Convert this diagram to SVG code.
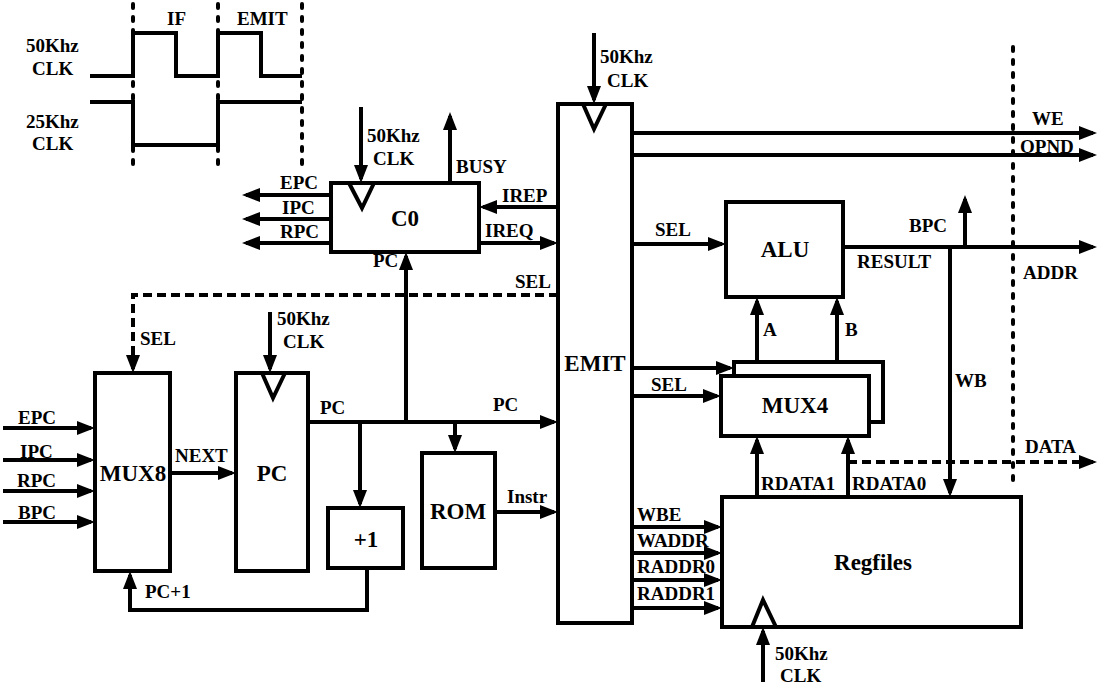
<svg xmlns="http://www.w3.org/2000/svg" width="1101" height="698" viewBox="0 0 1101 698" font-family="'Liberation Serif', 'Times New Roman', 'DejaVu Serif', serif">
<style>
text{font-family:'Liberation Serif','Times New Roman','DejaVu Serif',serif;font-weight:700;fill:#000}
.s{font-size:19px}
.b{font-size:23px;text-anchor:middle}
.box{fill:#fff;stroke:#000;stroke-width:4}
.w{fill:none;stroke:#000;stroke-width:4}
.a{fill:none;stroke:#000;stroke-width:4;marker-end:url(#ah)}
.da{fill:none;stroke:#000;stroke-width:4;stroke-dasharray:9 5;marker-end:url(#ah)}
.dot{fill:none;stroke:#000;stroke-width:4;stroke-dasharray:4 9;stroke-linecap:round}
.tri{fill:none;stroke:#000;stroke-width:4;stroke-linejoin:miter}
</style>
<defs>
<marker id="ah" markerWidth="18" markerHeight="14" refX="14" refY="7" orient="auto" markerUnits="userSpaceOnUse"><path d="M0,0 L18,7 L0,14 z" fill="#000"/></marker>
</defs>
<rect width="1101" height="698" fill="#fff"/>

<g id="timing">
<path class="dot" d="M133,4 V168 M218,4 V168 M302,4 V168"/>
<polyline class="w" points="90,76 133,76 133,33 176,33 176,76 218,76 218,33 261,33 261,76 302,76"/>
<polyline class="w" points="90,102 133,102 133,145 218,145 218,102 302,102"/>
<text class="s" x="167" y="25">IF</text>
<text class="s" x="237" y="25">EMIT</text>
<text class="s" x="26" y="52">50Khz</text>
<text class="s" x="32" y="75">CLK</text>
<text class="s" x="26" y="128">25Khz</text>
<text class="s" x="32" y="150">CLK</text>
</g>

<g id="boundary">
<path class="dot" d="M1013,47 V483"/>
</g>

<g id="connectors">
<path class="a" d="M361,107 V179"/>
<path class="a" d="M450,183 V116"/>
<path class="a" d="M331,195 H246"/>
<path class="a" d="M331,219 H246"/>
<path class="a" d="M331,243 H246"/>
<path class="a" d="M558,207 H483"/>
<path class="a" d="M479,243 H554"/>
<path class="a" d="M406,422 V256"/>
<path class="a" d="M594,33 V100"/>
<path class="a" d="M632,133 H1093"/>
<path class="a" d="M632,155 H1093"/>
<path class="a" d="M632,244 H722"/>
<path class="a" d="M843,247 H1093"/>
<path class="a" d="M965,247 V199"/>
<path class="a" d="M950,247 V493"/>
<path class="a" d="M757,376 V301"/>
<path class="a" d="M837,362 V301"/>
<path class="a" d="M632,368 H730"/>
<path class="a" d="M632,396 H717"/>
<path class="a" d="M757,497 V440"/>
<path class="a" d="M848,497 V440"/>
<path class="da" d="M848,462 H1093"/>
<path class="a" d="M632,527 H718"/>
<path class="a" d="M632,553 H718"/>
<path class="a" d="M632,580 H718"/>
<path class="a" d="M632,608 H718"/>
<path class="a" d="M763,682 V631"/>
<path class="da" d="M558,295 H133 V369"/>
<path class="a" d="M270,312 V369"/>
<path class="a" d="M3,428 H91"/>
<path class="a" d="M3,460 H91"/>
<path class="a" d="M3,491 H91"/>
<path class="a" d="M3,522 H91"/>
<path class="a" d="M170,473 H232"/>
<path class="a" d="M367,568 V610 H130 V575"/>
<path class="a" d="M308,422 H554"/>
<path class="a" d="M360,422 V504"/>
<path class="a" d="M455,422 V449"/>
<path class="a" d="M495,512 H554"/>
</g>

<g id="C0">
<rect class="box" x="331" y="183" width="148" height="69"/>
<polyline class="tri" points="349,183 362,208 374,183"/>
<text class="b" x="405" y="226">C0</text>
</g>

<g id="EMIT">
<rect class="box" x="558" y="104" width="74" height="519"/>
<polyline class="tri" points="583,104 594,129 606,104"/>
<text class="b" x="595" y="371">EMIT</text>
</g>

<g id="ALU">
<rect class="box" x="726" y="202" width="117" height="95"/>
<text class="b" x="785" y="257">ALU</text>
</g>

<g id="MUX4">
<rect class="box" x="734" y="362" width="149" height="60"/>
<rect class="box" x="721" y="376" width="148" height="60"/>
<text class="b" x="795" y="413">MUX4</text>
</g>

<g id="Regfiles">
<rect class="box" x="722" y="497" width="299" height="130"/>
<polyline class="tri" points="752,627 763,600 776,627"/>
<text class="b" x="873" y="570">Regfiles</text>
</g>

<g id="MUX8">
<rect class="box" x="95" y="373" width="75" height="198"/>
<text class="b" x="133" y="481">MUX8</text>
</g>

<g id="PC">
<rect class="box" x="236" y="373" width="72" height="198"/>
<polyline class="tri" points="262,373 273,398 285,373"/>
<text class="b" x="272" y="481">PC</text>
</g>

<g id="PLUS1">
<rect class="box" x="328" y="508" width="75" height="60"/>
<text class="b" x="366" y="547">+1</text>
</g>

<g id="ROM">
<rect class="box" x="422" y="453" width="73" height="115"/>
<text class="b" x="458" y="519">ROM</text>
</g>

<g id="labels">
<text class="s" x="367" y="142">50Khz</text>
<text class="s" x="373" y="165">CLK</text>
<text class="s" x="456" y="173">BUSY</text>
<text class="s" x="280" y="189">EPC</text>
<text class="s" x="282" y="214">IPC</text>
<text class="s" x="280" y="238">RPC</text>
<text class="s" x="502" y="202">IREP</text>
<text class="s" x="485" y="237">IREQ</text>
<text class="s" x="373" y="267">PC</text>
<text class="s" x="515" y="288">SEL</text>
<text class="s" x="600" y="63">50Khz</text>
<text class="s" x="607" y="87">CLK</text>
<text class="s" x="1032" y="125">WE</text>
<text class="s" x="1020" y="153">OPND</text>
<text class="s" x="655" y="236">SEL</text>
<text class="s" x="909" y="232">BPC</text>
<text class="s" x="857" y="268">RESULT</text>
<text class="s" x="1023" y="279">ADDR</text>
<text class="s" x="763" y="336">A</text>
<text class="s" x="845" y="336">B</text>
<text class="s" x="651" y="391">SEL</text>
<text class="s" x="955" y="387">WB</text>
<text class="s" x="1025" y="453">DATA</text>
<text class="s" x="761" y="490">RDATA1</text>
<text class="s" x="852" y="490">RDATA0</text>
<text class="s" x="637" y="521">WBE</text>
<text class="s" x="637" y="547">WADDR</text>
<text class="s" x="637" y="573">RADDR0</text>
<text class="s" x="637" y="600">RADDR1</text>
<text class="s" x="775" y="660">50Khz</text>
<text class="s" x="780" y="682">CLK</text>
<text class="s" x="140" y="345">SEL</text>
<text class="s" x="277" y="325">50Khz</text>
<text class="s" x="283" y="348">CLK</text>
<text class="s" x="18" y="424">EPC</text>
<text class="s" x="20" y="458">IPC</text>
<text class="s" x="17" y="487">RPC</text>
<text class="s" x="18" y="519">BPC</text>
<text class="s" x="175" y="462">NEXT</text>
<text class="s" x="145" y="598">PC+1</text>
<text class="s" x="320" y="414">PC</text>
<text class="s" x="493" y="411">PC</text>
<text class="s" x="507" y="503">Instr</text>
</g>
</svg>
